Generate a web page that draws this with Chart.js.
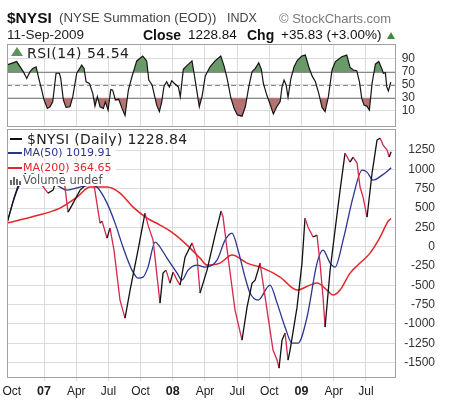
<!DOCTYPE html>
<html>
<head>
<meta charset="utf-8">
<script src="https://cdn.jsdelivr.net/npm/chart.js@4.4.1/dist/chart.umd.min.js"></script>
<style>
  html, body { margin: 0; padding: 0; background: #fff; }
  #wrap { position: relative; width: 459px; height: 403px; overflow: hidden;
          font-family: 'Liberation Sans', Arial, sans-serif; }
  canvas { position: absolute; left: 0; }
  .t { position: absolute; white-space: nowrap; line-height: 1; }
  .lg { position: absolute; white-space: nowrap; line-height: 1; background: #fff;
        font-family: 'DejaVu Sans', Verdana, sans-serif; padding-right: 2px; }
  .sw { position: absolute; }
</style>
</head>
<body>
<div id="wrap">
  <canvas id="rsiChart" width="459" height="128" style="top:0"></canvas>
  <canvas id="mainChart" width="459" height="275" style="top:128px"></canvas>

  <!-- header -->
  <div class="t" style="left:7px;top:9.5px;font-size:15.5px;font-weight:bold;color:#111">$NYSI</div>
  <div class="t" style="left:59px;top:11px;font-size:13.3px;color:#444">(NYSE Summation (EOD))</div>
  <div class="t" style="left:227px;top:12px;font-size:12.5px;color:#444">INDX</div>
  <div class="t" style="left:279px;top:11.5px;font-size:13px;color:#7a7a7a">&copy; StockCharts.com</div>
  <div class="t" style="left:7px;top:28px;font-size:13.5px;color:#222">11-Sep-2009</div>
  <div class="t" style="left:143px;top:27.5px;font-size:14px;font-weight:bold;color:#111">Close</div>
  <div class="t" style="left:188px;top:28px;font-size:13.5px;color:#111">1228.84</div>
  <div class="t" style="left:247px;top:27.5px;font-size:14px;font-weight:bold;color:#111">Chg</div>
  <div class="t" style="left:281px;top:28px;font-size:13.5px;color:#111">+35.83 (+3.00%)</div>
  <div class="sw" style="left:387px;top:32px;width:0;height:0;border-left:4.5px solid transparent;border-right:4.5px solid transparent;border-bottom:7px solid #3d8b3d"></div>

  <!-- RSI legend -->
  <div class="lg" style="left:8px;top:45px;height:13px;width:124px"></div>
  <div class="sw" style="left:11px;top:47px;width:0;height:0;border-left:6px solid transparent;border-right:6px solid transparent;border-bottom:9px solid #5f925f"></div>
  <div class="lg" style="left:27px;top:45.5px;font-size:14px;letter-spacing:0.5px;color:#222;background:transparent">RSI(14) 54.54</div>

  <!-- main legend -->
  <div class="lg" style="left:8px;top:131px;height:14px;width:182px"></div>
  <div class="sw" style="left:10px;top:137.5px;width:12px;height:2px;background:#111"></div>
  <div class="lg" style="left:27px;top:131.5px;font-size:14px;letter-spacing:0.3px;color:#222;background:transparent">$NYSI (Daily) 1228.84</div>
  <div class="lg" style="left:8px;top:146px;height:12px;width:106px"></div>
  <div class="sw" style="left:8px;top:152px;width:14px;height:1.5px;background:#2a3590"></div>
  <div class="lg" style="left:23px;top:147px;font-size:11px;color:#2a3590;background:transparent">MA(50) 1019.91</div>
  <div class="lg" style="left:8px;top:161px;height:12px;width:106px"></div>
  <div class="sw" style="left:8px;top:167px;width:14px;height:1.5px;background:#e3262b"></div>
  <div class="lg" style="left:23px;top:162px;font-size:11px;color:#e3262b;background:transparent">MA(200) 364.65</div>
  <div class="lg" style="left:8px;top:174px;height:12px;width:100px"></div>
  <div class="sw" style="left:10px;top:180px;width:2px;height:5px;background:#666"></div>
  <div class="sw" style="left:13px;top:177px;width:2px;height:8px;background:#666"></div>
  <div class="sw" style="left:16px;top:179px;width:2px;height:6px;background:#666"></div>
  <div class="sw" style="left:19px;top:181px;width:2px;height:4px;background:#666"></div>
  <div class="lg" style="left:23px;top:175px;font-size:11.5px;color:#555;background:transparent">Volume undef</div>
</div>

<script>
/* ------------------------------------------------------------------
   DATA — x values are months since 1 Oct 2006
   ------------------------------------------------------------------ */
var X_MIN = -0.45;
var X_MAX = 35.8;

var xTickMonths = [0, 3, 6, 9, 12, 15, 18, 21, 24, 27, 30, 33];
var xTickLabels = ['Oct', '07', 'Apr', 'Jul', 'Oct', '08', 'Apr', 'Jul', 'Oct', '09', 'Apr', 'Jul'];

var rsiTicks  = [10, 30, 50, 70, 90];
var rsiLevels = [70, 50, 30];

var priceTicks = [1250, 1000, 750, 500, 250, 0, -250, -500, -750, -1000, -1250, -1500];

// RSI(14)
var rsiMonths = [
  -0.45, 0.45, 1.07, 1.39, 1.70, 1.95, 2.26, 2.47, 2.79, 3.00,
  3.31, 3.56, 3.81, 4.12, 4.43, 4.56, 4.80, 5.05, 5.42, 5.68,
  6.05, 6.51, 6.73, 6.92, 7.23, 7.54, 7.75, 7.97, 8.22, 8.53,
  8.71, 8.97, 9.22, 9.40, 9.65, 9.96, 10.27, 10.55, 10.86, 11.20,
  11.64, 12.20, 12.57, 12.76, 13.07, 13.25, 13.50, 13.75, 13.97, 14.18,
  14.43, 14.68, 14.90, 15.21, 15.52, 15.70, 15.98, 16.36, 16.79, 16.98,
  17.23, 17.47, 17.73, 18.03, 18.47, 18.94, 19.47, 19.78, 20.08, 20.40,
  20.71, 21.02, 21.45, 21.76, 22.08, 22.39, 22.69, 23.01, 23.25, 23.44,
  23.76, 24.06, 24.37, 24.69, 25.00, 25.18, 25.37, 25.56, 25.74, 25.99,
  26.30, 26.61, 27.02, 27.35, 27.67, 27.98, 28.29, 28.60, 28.91, 29.19,
  29.50, 29.84, 30.15, 30.75, 31.21, 31.52, 31.83, 32.14, 32.39, 32.61,
  32.82, 33.08, 33.32, 33.57, 33.88, 34.19, 34.47, 34.62, 34.81, 34.94, 35.09, 35.32
];
var rsiValues = [
  81, 86, 70.5, 60, 70.5, 75.5, 78, 63, 42, 27,
  14, 16.5, 24, 68, 68, 60, 27, 15.5, 16.5, 32,
  68, 80.5, 75.5, 55, 52.5, 37, 17.5, 32, 16.5, 14,
  24, 11.5, 43, 42, 27, 28, 14, 3, 42, 63,
  87, 94.5, 87, 57.5, 50, 37, 19, 9, 24, 48,
  55, 47, 56.5, 51.5, 47, 32, 74, 80.5, 87, 68,
  42, 16.5, 33, 64, 78, 87, 94.5, 79, 58.5, 31,
  14, 4, 2, 16.5, 47, 70.5, 75.5, 84, 74, 52.5,
  34.5, 20.5, 5.5, 16.5, 24, 47, 57.5, 50, 31, 58.5,
  78, 88, 94.5, 96, 78, 64, 55, 37, 15.5, 9,
  32, 73, 86, 93.5, 96, 77, 73, 72, 55, 29.5,
  19, 17.5, 11.5, 52.5, 82, 86, 75.5, 68, 69, 47, 41, 54.5
];

// $NYSI daily
var nysiMonths = [
  -0.45, 0.20, 0.76, 1.51, 2.14, 2.81, 3.37, 3.84, 4.31, 4.77,
  5.24, 5.61, 6.36, 7.10, 7.66, 8.22, 8.41, 8.87, 9.15, 9.52,
  10.08, 10.55, 11.02, 11.76, 12.41, 12.69, 13.16, 13.81, 14.09, 14.37,
  14.74, 15.02, 15.40, 15.68, 16.14, 16.79, 17.26, 17.54, 18.19, 18.94,
  19.50, 19.68, 20.15, 20.80, 21.45, 21.92, 22.39, 22.67, 22.95, 23.13,
  23.41, 23.88, 24.34, 24.72, 24.90, 25.18, 25.46, 25.74, 25.93, 26.58,
  27.04, 27.32, 27.60, 28.07, 28.44, 28.72, 29.00, 29.19, 29.66, 30.12,
  30.59, 31.05, 31.52, 31.80, 32.17, 32.45, 32.73, 33.10, 33.57, 34.03,
  34.32, 34.60, 34.97, 35.16, 35.35
];
var nysiValues = [
  305, 629, 862, 991, 926, 797, 694, 732, 926, 965,
  447, 538, 732, 823, 797, 305, 331, 111, 241, -44,
  -691, -924, -562, -44, 435, 279, 85, -730, -342, -303,
  -471, -329, -432, -497, -135, 48, -135, -600, -303, 150,
  461, 385, -135, -820, -1209, -782, -471, -432, -303, -212,
  -471, -911, -1338, -1467, -1571, -1209, -1118, -1467, -1338, -782,
  -212, 370, 254, 125, 150, -212, -652, -1040, -303, 215,
  733, 1211, 1095, 1160, 1082, 772, 642, 383, 953, 1380,
  1405, 1315, 1250, 1160, 1229
];

// MA(50)
var ma50Months = [
  -0.45, 0.11, 0.58, 1.23, 2.14, 3.09, 4.03, 5.14, 6.36, 7.47,
  7.94, 8.87, 9.62, 10.36, 11.20, 11.76, 12.23, 12.69, 13.35, 13.81,
  14.46, 15.40, 15.86, 16.42, 17.26, 18.00, 19.12, 19.87, 20.52, 21.08,
  21.73, 22.20, 22.95, 24.06, 24.72, 25.46, 26.11, 26.67, 27.51, 28.44,
  29.00, 29.66, 30.12, 30.87, 31.80, 32.64, 33.10, 33.66, 34.51, 35.35
];
var ma50Values = [
  305, 577, 758, 888, 862, 797, 797, 732, 772, 797,
  772, 564, 305, -5, -303, -406, -393, -264, 60, -5,
  -148, -342, -432, -303, -238, -264, -174, 85, 176, -44,
  -393, -600, -691, -497, -730, -1040, -1247, -1247, -911, -212,
  -44, -212, -264, 85, 642, 991, 965, 862, 926, 1020
];

// MA(200)
var ma200Months = [
  -0.45, 1.98, 4.49, 6.08, 7.29, 8.87, 10.08, 11.30, 12.60, 13.81,
  15.02, 16.33, 17.54, 18.19, 19.40, 20.52, 21.92, 23.41, 25.00, 26.58,
  27.79, 28.44, 29.37, 29.93, 30.59, 31.52, 32.45, 33.38, 34.32, 35.07, 35.35
];
var ma200Values = [
  305, 390, 500, 642, 772, 772, 694, 512, 370, 280,
  176, 21, -148, -238, -212, -109, -212, -277, -393, -561,
  -497, -471, -561, -626, -561, -342, -212, -83, 125, 330, 365
];

/* ------------------------------------------------------------------
   HELPERS
   ------------------------------------------------------------------ */
function toPoints(xs, ys) {
  return xs.map(function (x, i) { return { x: x, y: ys[i] }; });
}

var FONT = "'Liberation Sans', Arial, sans-serif";
var GRID = '#dcdcdc';

// outline round each panel
var panelFrame = {
  id: 'panelFrame',
  afterDraw: function (chart) {
    var a = chart.chartArea, ctx = chart.ctx;
    ctx.save();
    ctx.strokeStyle = '#a0a0a0';
    ctx.lineWidth = 1;
    ctx.strokeRect(Math.round(a.left) + 0.5, Math.round(a.top) + 0.5,
                   Math.round(a.right - a.left) - 1, Math.round(a.bottom - a.top) - 1);
    ctx.restore();
  }
};

// 70 / 50 / 30 reference lines in the RSI panel
var rsiLevelLines = {
  id: 'rsiLevelLines',
  beforeDatasetsDraw: function (chart) {
    var a = chart.chartArea, ctx = chart.ctx, y = chart.scales.y;
    ctx.save();
    rsiLevels.forEach(function (lv) {
      var py = Math.round(y.getPixelForValue(lv)) + 0.5;
      ctx.strokeStyle = '#8a8a8a';
      ctx.lineWidth = 1;
      ctx.setLineDash(lv === 50 ? [5, 3] : []);
      ctx.beginPath();
      ctx.moveTo(a.left, py);
      ctx.lineTo(a.right, py);
      ctx.stroke();
    });
    ctx.restore();
  }
};

function xScale(showLabels) {
  return {
    type: 'linear',
    min: X_MIN,
    max: X_MAX,
    afterBuildTicks: function (s) {
      s.ticks = xTickMonths.map(function (v) { return { value: v }; });
    },
    afterFit: function (s) {
      s.height = showLabels ? 25 : 0;
      s.paddingLeft = 0;
      s.paddingRight = 0;
    },
    grid: {
      color: function (c) { return c.tick && c.tick.value === 0 ? 'rgba(0,0,0,0)' : GRID; },
      drawTicks: showLabels,
      tickLength: 3,
    },
    border: { display: false },
    ticks: {
      display: showLabels,
      autoSkip: false,
      maxRotation: 0,
      padding: 3,
      color: '#222',
      callback: function (v, i) { return xTickLabels[i]; },
      font: function (c) {
        var lbl = xTickLabels[c.index] || '';
        var isYear = /^\d/.test(lbl);
        return { family: FONT, size: isYear ? 12.5 : 12, weight: isYear ? 'bold' : 'normal' };
      },
    },
  };
}

// fixed axis width; labels are right-aligned at the axis' right edge
function yFit(width) {
  return function (s) {
    s.width = width;
    s.paddingTop = 0;
    s.paddingBottom = 0;
  };
}

/* ------------------------------------------------------------------
   RSI PANEL
   ------------------------------------------------------------------ */
var rsiPts = toPoints(rsiMonths, rsiValues);

new Chart(document.getElementById('rsiChart'), {
  type: 'line',
  data: {
    datasets: [
      {
        data: rsiPts,
        borderColor: '#151515',
        borderWidth: 1.2,
        pointRadius: 0,
        tension: 0,
        fill: { target: { value: 70 }, above: '#6a9a6a', below: 'rgba(0,0,0,0)' },
      },
      {
        data: rsiPts,
        borderColor: 'rgba(0,0,0,0)',
        borderWidth: 0,
        pointRadius: 0,
        tension: 0,
        fill: { target: { value: 30 }, above: 'rgba(0,0,0,0)', below: '#b47272' },
      },
    ],
  },
  options: {
    responsive: false,
    animation: false,
    devicePixelRatio: 1,
    layout: { padding: { left: 7, top: 44, right: 44, bottom: 1 } },
    plugins: { legend: { display: false }, tooltip: { enabled: false } },
    scales: {
      x: xScale(false),
      y: {
        position: 'right',
        min: -14.6,
        max: 113,
        afterBuildTicks: function (s) {
          s.ticks = rsiTicks.map(function (v) { return { value: v }; });
        },
        afterFit: yFit(19),
        grid: { color: GRID, drawTicks: false },
        border: { display: false },
        ticks: { color: '#333', crossAlign: 'far', padding: 4, font: { family: FONT, size: 12 } },
      },
    },
  },
  plugins: [rsiLevelLines, panelFrame],
});

/* ------------------------------------------------------------------
   PRICE PANEL — $NYSI with MA(50) and MA(200)
   ------------------------------------------------------------------ */
new Chart(document.getElementById('mainChart'), {
  type: 'line',
  data: {
    datasets: [
      {
        data: toPoints(nysiMonths, nysiValues),
        borderWidth: 1.3,
        pointRadius: 0,
        tension: 0,
        borderColor: '#111',
        segment: {
          // falling days in red, rising days in black
          borderColor: function (c) { return c.p1.parsed.y < c.p0.parsed.y ? '#d8264c' : '#111'; },
        },
      },
      {
        data: toPoints(ma50Months, ma50Values),
        borderColor: '#2a3590',
        borderWidth: 1.3,
        pointRadius: 0,
        cubicInterpolationMode: 'monotone',
      },
      {
        data: toPoints(ma200Months, ma200Values),
        borderColor: '#e3262b',
        borderWidth: 1.5,
        pointRadius: 0,
        cubicInterpolationMode: 'monotone',
      },
    ],
  },
  options: {
    responsive: false,
    animation: false,
    devicePixelRatio: 1,
    layout: { padding: { left: 7, top: 1, right: 24, bottom: 0 } },
    plugins: { legend: { display: false }, tooltip: { enabled: false } },
    scales: {
      x: xScale(true),
      y: {
        position: 'right',
        min: -1699,
        max: 1523,
        afterBuildTicks: function (s) {
          s.ticks = priceTicks.map(function (v) { return { value: v }; });
        },
        afterFit: yFit(39),
        grid: { color: GRID, drawTicks: false },
        border: { display: false },
        ticks: {
          color: '#333', crossAlign: 'far', padding: 7,
          font: { family: FONT, size: 12 },
          callback: function (v) { return String(v); },
        },
      },
    },
  },
  plugins: [panelFrame],
});
</script>
</body>
</html>
